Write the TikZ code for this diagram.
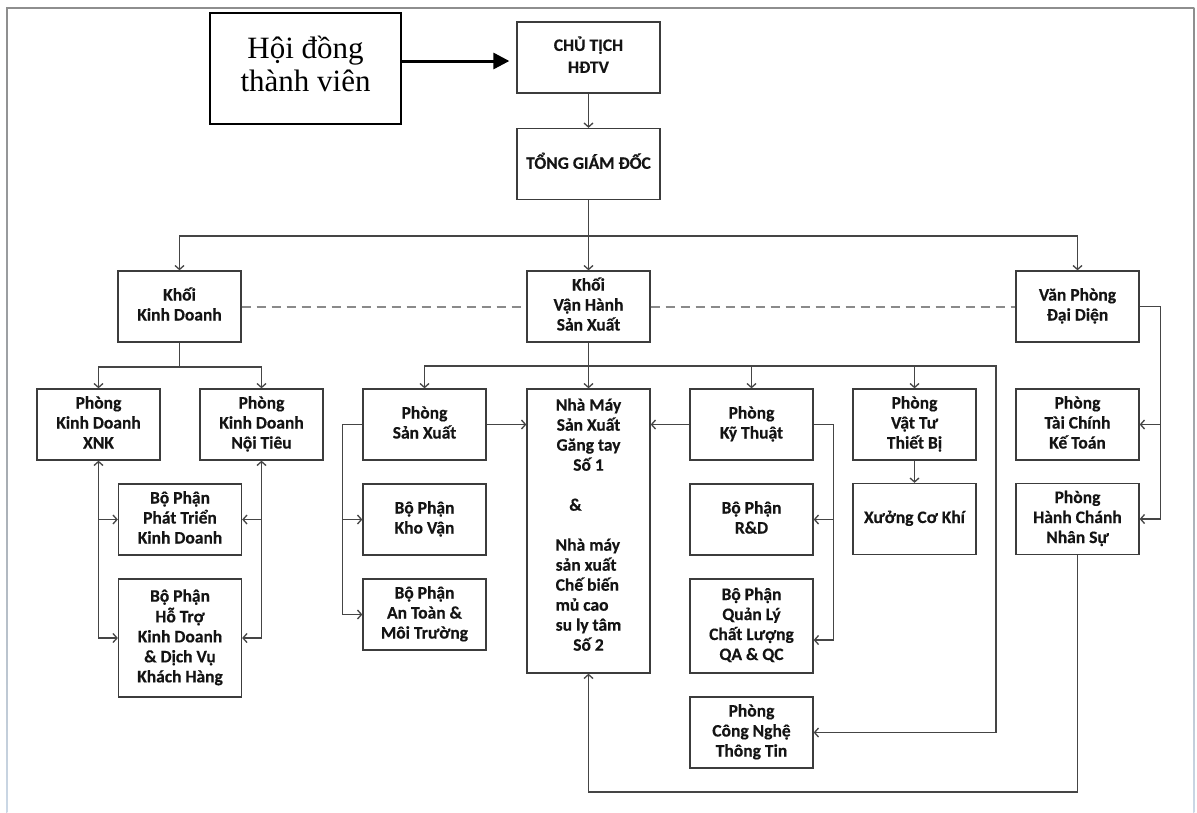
\documentclass[tikz,border=0pt]{standalone}
\usepackage{fontspec}
\newfontfamily\boxfont{Carlito}[FakeBold=0.4]
\newfontfamily\titlefont{Liberation Serif}
\usetikzlibrary{arrows.meta}
\definecolor{boxline}{HTML}{3C3C3C}
\definecolor{wire}{HTML}{454545}
\definecolor{textcol}{HTML}{141414}
\definecolor{framecol}{HTML}{8E8E8E}
\definecolor{framefade}{HTML}{CBD8E6}
\definecolor{dashcol}{HTML}{8A8A8A}
\newcommand\boxlines[1]{\begin{tabular}{@{}c@{}}#1\end{tabular}}

\begin{document}
\begin{tikzpicture}[x=1pt,y=-1pt,
  >={Straight Barb[length=4pt,width=9pt]},
  box/.style={draw=boxline, line width=1.3pt, fill=white, inner sep=0pt,
    minimum width=123pt, minimum height=71pt, text=textcol,
    font=\boxfont\bfseries\fontsize{17.5}{20}\selectfont},
  topbox/.style={box, minimum width=143pt, minimum height=71pt,
    font=\boxfont\bfseries\fontsize{17.5}{22}\selectfont},
  conn/.style={draw=wire, line width=1.3pt},
  dashline/.style={draw=dashcol, line width=2pt, dash pattern=on 9pt off 6pt},
  bigarrow/.style={draw=black, line width=3pt, -{Triangle[length=16pt,width=16pt]}}
]
\useasboundingbox (0,0) rectangle (1197,812);
\fill[white] (0,0) rectangle (1197,812);

% page frame: grey on top, fading to a pale blue down the sides
\draw[framecol, line width=1.3pt] (6.35,8) -- (1193.65,8);
\shade[top color=framecol, bottom color=framefade, middle color=framecol!70!framefade]
  (6,7.35) rectangle (7.3,812);
\shade[top color=framecol, bottom color=framefade, middle color=framecol!70!framefade]
  (1193,7.35) rectangle (1194.3,812);

% top of the hierarchy
\node[box, draw=black, line width=2pt, minimum width=191pt, minimum height=111pt,
      text=black, font=\titlefont\fontsize{31}{33}\selectfont] (hd) at (305.5,68.5)
  {\raisebox{-6.5pt}[0pt][0pt]{\boxlines{Hội đồng\\thành viên}}};
\node[topbox] (ct)  at (588.5,57.5) {\boxlines{CHỦ TỊCH\\HĐTV}};
\node[topbox] (tgd) at (588.5,164)  {\boxlines{TỔNG GIÁM ĐỐC}};

% divisions
\node[box] (kkd) at (179.5,306.5) {\boxlines{Khối\\Kinh Doanh}};
\node[box] (vh)  at (588.5,306.5) {\boxlines{Khối\\Vận Hành\\Sản Xuất}};
\node[box] (vp)  at (1077.5,306.5) {\boxlines{Văn Phòng\\Đại Diện}};

% sales division
\node[box] (xnk) at (98.5,424.5)  {\boxlines{Phòng\\Kinh Doanh\\XNK}};
\node[box] (nt)  at (261.5,424.5) {\boxlines{Phòng\\Kinh Doanh\\Nội Tiêu}};
\node[box] (pt)  at (180,519.5)   {\boxlines{Bộ Phận\\Phát Triển\\Kinh Doanh}};
\node[box, minimum height=118pt] (ht) at (180,638)
  {\boxlines{Bộ Phận\\Hỗ Trợ\\Kinh Doanh\\\& Dịch Vụ\\Khách Hàng}};

% operations division
\node[box] (sx)  at (424.5,424.5) {\boxlines{Phòng\\Sản Xuất}};
\node[box] (kv)  at (424.5,519.5) {\boxlines{Bộ Phận\\Kho Vận}};
\node[box] (atm) at (424.5,614.5) {\boxlines{Bộ Phận\\An Toàn \&\\Môi Trường}};
\node[box, minimum height=284pt] (nm) at (588.5,531)
  {\raisebox{0pt}[0pt][0pt]{\begin{tabular}{@{}c@{}}
    Nhà Máy\\Sản Xuất\\Găng tay\\Số 1\\ \\\hspace*{-26pt}\&\\ \\
    \multicolumn{1}{@{}l@{}}{Nhà máy}\\
    \multicolumn{1}{@{}l@{}}{sản xuất}\\
    \multicolumn{1}{@{}l@{}}{Chế biến}\\
    \multicolumn{1}{@{}l@{}}{mủ cao}\\
    \multicolumn{1}{@{}l@{}}{su ly tâm}\\
    Số 2
  \end{tabular}}};
\node[box] (kt)  at (751.5,424.5) {\boxlines{Phòng\\Kỹ Thuật}};
\node[box] (rd)  at (751.5,519.5) {\boxlines{Bộ Phận\\R\&D}};
\node[box, minimum height=94pt] (qa) at (751.5,626)
  {\boxlines{Bộ Phận\\Quản Lý\\Chất Lượng\\QA \& QC}};
\node[box] (it)  at (751.5,732.5) {\boxlines{Phòng\\Công Nghệ\\Thông Tin}};
\node[box] (vt)  at (914.5,424.5) {\boxlines{Phòng\\Vật Tư\\Thiết Bị}};
\node[box] (xck) at (914.5,519)   {\boxlines{Xưởng Cơ Khí}};

% representative office
\node[box] (tc)  at (1077.5,424.5) {\boxlines{Phòng\\Tài Chính\\Kế Toán}};
\node[box] (hc)  at (1077.5,519)   {\boxlines{Phòng\\Hành Chánh\\Nhân Sự}};

% routing points
\coordinate (hdout)  at ([yshift=7.5pt]hd.east);
\coordinate (topbus) at (tgd.south |- 0,236);
\coordinate (kkdbus) at (kkd.south |- 0,367);
\coordinate (vhbus)  at (vh.south |- 0,366);
\coordinate (busend) at (996,366);
\coordinate (sxleft) at ([xshift=-20pt]sx.west);
\coordinate (ktright) at ([xshift=20pt]kt.east);
\coordinate (qain)   at ([yshift=-14pt]qa.east);
\coordinate (vpright) at ([xshift=21pt]vp.east);
\coordinate (hcbus)  at (hc.south |- 0,792);

% connectors
\draw[bigarrow, shorten >=7pt] (hdout) -- (hdout -| ct.west);
\draw[conn,->] (ct.south) -- (tgd.north);
\draw[conn] (tgd.south) -- (topbus);
\draw[conn,->] (topbus) -| (kkd.north);
\draw[conn,->] (topbus) -| (vp.north);
\draw[conn,->] (topbus) -- (vh.north);

\draw[dashline] (kkd.east) -- (vh.west);
\draw[dashline] (vh.east) -- (vp.west);

\draw[conn] (kkd.south) -- (kkdbus);
\draw[conn,->] (kkdbus) -| (xnk.north);
\draw[conn,->] (kkdbus) -| (nt.north);
\draw[conn,<->] (xnk.south) |- (ht.west);
\draw[conn,->] (pt.west -| xnk.south) -- (pt.west);
\draw[conn,<->] (nt.south) |- (ht.east);
\draw[conn,->] (pt.east -| nt.south) -- (pt.east);

\draw[conn,->] (vh.south) -- (nm.north);
\draw[conn,->] (vhbus) -| (sx.north);
\draw[conn,->] (vhbus) -| (kt.north);
\draw[conn,->] (vhbus) -| (vt.north);
\draw[conn,->] (vhbus) -- (busend) |- (it.east);

\draw[conn,->] (sx.east) -- (sx.east -| nm.west);
\draw[conn,->] (kt.west) -- (kt.west -| nm.east);
\draw[conn,->] (sx.west) -- (sxleft) |- (atm.west);
\draw[conn,->] (kv.west -| sxleft) -- (kv.west);
\draw[conn,->] (kt.east) -- (ktright) |- (qain);
\draw[conn,->] (rd.east -| ktright) -- (rd.east);
\draw[conn,->] (vt.south) -- (xck.north);

\draw[conn,->] (vp.east) -- (vpright) |- (hc.east);
\draw[conn,->] (tc.east -| vpright) -- (tc.east);
\draw[conn,->] (hc.south) -- (hcbus) -| (nm.south);
\end{tikzpicture}
\end{document}
